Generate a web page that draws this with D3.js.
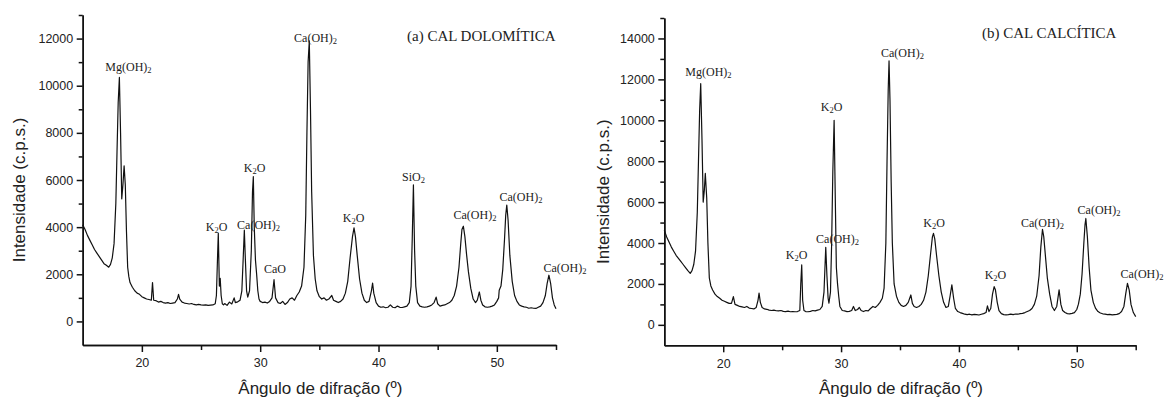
<!DOCTYPE html>
<html>
<head>
<meta charset="utf-8">
<script src="https://cdn.jsdelivr.net/npm/d3@7"></script>
<style>
  body { margin: 0; background: #fff; }
  svg { display: block; }
  .tick text { font-family: "Liberation Sans", Arial, sans-serif; font-size: 12.5px; fill: #222; }
  .domain, .tick line { stroke: #111; stroke-width: 1.5px; }
</style>
</head>
<body>
<div id="chart"></div>
<script>

// (a) cal dolomitica - angle (2 theta) and counts
var anglesA = [15.0,15.2,15.4,15.6,15.8,16.0,16.2,16.4,16.6,16.8,17.0,17.2,17.35,17.5,17.65,17.8,17.9,18.0,18.1,18.2,18.3,18.4,18.5,18.6,18.7,18.8,18.9,19.0,19.2,19.4,19.6,19.8,20.0,20.2,20.4,20.6,20.8,20.9,21.0,21.2,21.4,21.6,21.8,22.0,22.2,22.4,22.6,22.8,23.0,23.1,23.2,23.4,23.6,23.8,24.0,24.2,24.4,24.6,24.8,25.0,25.2,25.4,25.6,25.8,26.0,26.2,26.3,26.4,26.46,26.55,26.62,26.7,26.8,26.9,27.0,27.2,27.4,27.6,27.8,27.9,28.1,28.3,28.45,28.55,28.66,28.75,28.85,28.95,29.1,29.25,29.35,29.42,29.5,29.6,29.7,29.8,29.9,30.0,30.2,30.4,30.6,30.8,31.0,31.17,31.3,31.5,31.7,31.9,32.1,32.3,32.5,32.7,32.9,33.1,33.3,33.5,33.7,33.85,33.95,34.05,34.15,34.25,34.35,34.5,34.65,34.8,35.0,35.2,35.4,35.6,35.8,36.05,36.2,36.4,36.6,36.8,37.0,37.2,37.4,37.6,37.8,37.93,38.05,38.2,38.4,38.6,38.8,39.0,39.2,39.4,39.5,39.6,39.8,40.0,40.2,40.4,40.6,40.8,41.0,41.2,41.4,41.6,41.8,42.0,42.2,42.4,42.6,42.75,42.85,42.95,43.05,43.15,43.3,43.5,43.7,43.9,44.1,44.3,44.5,44.7,44.87,45.0,45.2,45.4,45.6,45.8,46.0,46.2,46.4,46.6,46.8,46.95,47.05,47.17,47.3,47.45,47.6,47.8,48.0,48.2,48.35,48.52,48.65,48.8,49.0,49.2,49.4,49.6,49.8,50.0,50.15,50.2,50.35,50.5,50.65,50.75,50.84,50.95,51.1,51.3,51.5,51.7,51.9,52.1,52.3,52.5,52.7,52.9,53.1,53.3,53.5,53.7,53.9,54.1,54.25,54.4,54.55,54.7,54.85,55.0];
var countsA = [4100,3900,3650,3450,3250,3050,2900,2750,2600,2450,2380,2300,2420,2700,3300,5000,7200,9300,10350,8000,5200,5800,6600,5800,3800,2300,1900,1650,1450,1300,1200,1150,1050,1000,950,930,900,1650,900,880,820,850,800,780,800,760,780,800,950,1150,950,820,780,760,740,760,720,700,720,700,690,700,680,690,700,750,1100,2800,3740,1500,1830,1100,750,700,760,680,820,740,1000,800,830,900,1300,2500,3870,2600,1300,1030,1300,3000,5500,6140,4000,2600,2000,1300,950,850,800,820,780,850,1000,1770,1000,800,760,850,720,800,950,1000,900,1100,1250,1500,2300,4500,8000,11000,11900,9000,5500,2800,1800,1300,1050,950,1000,900,950,1100,900,850,800,850,950,1200,1700,2700,3600,3970,3600,2800,1800,1200,900,800,850,1300,1630,1200,800,650,600,620,580,600,700,600,580,650,600,590,620,650,800,1500,3500,5790,3000,1500,800,650,620,600,620,650,700,800,1030,750,650,680,700,750,800,900,1100,1500,2300,3300,3900,4040,3600,2800,2100,1400,950,800,900,1250,900,700,620,600,620,650,700,850,1000,1320,1500,2200,3500,4500,4940,4300,2800,1700,1100,850,700,650,620,600,560,580,560,550,600,650,800,1100,1600,1960,1600,1000,700,540];

// (b) cal calcitica
var anglesB = [15.0,15.2,15.4,15.6,15.8,16.0,16.2,16.4,16.6,16.8,17.0,17.2,17.35,17.5,17.65,17.8,17.9,18.0,18.09,18.2,18.3,18.4,18.48,18.6,18.7,18.82,18.95,19.1,19.3,19.5,19.7,19.9,20.1,20.3,20.5,20.7,20.86,21.0,21.2,21.4,21.6,21.8,22.0,22.2,22.4,22.6,22.8,22.95,23.04,23.15,23.3,23.5,23.7,23.9,24.1,24.3,24.5,24.7,24.9,25.1,25.3,25.5,25.7,25.9,26.1,26.3,26.5,26.58,26.66,26.74,26.85,27.0,27.2,27.4,27.6,27.8,28.0,28.2,28.4,28.55,28.7,28.8,28.9,28.97,29.1,29.2,29.3,29.41,29.5,29.6,29.7,29.8,29.9,30.1,30.3,30.5,30.7,30.9,31.05,31.2,31.4,31.55,31.7,31.9,32.1,32.3,32.5,32.7,32.9,33.1,33.3,33.5,33.65,33.8,33.9,34.0,34.07,34.15,34.25,34.35,34.5,34.7,34.9,35.1,35.3,35.5,35.7,35.92,36.05,36.2,36.4,36.6,36.8,37.0,37.2,37.4,37.6,37.75,37.84,37.95,38.1,38.3,38.5,38.7,38.9,39.1,39.25,39.4,39.55,39.7,39.9,40.1,40.3,40.5,40.7,40.9,41.1,41.3,41.5,41.7,41.9,42.1,42.3,42.42,42.55,42.7,42.85,42.99,43.1,43.25,43.4,43.6,43.8,44.0,44.2,44.4,44.6,44.8,45.0,45.2,45.4,45.6,45.8,46.0,46.2,46.4,46.6,46.8,46.95,47.09,47.2,47.35,47.5,47.7,47.9,48.1,48.3,48.5,48.65,48.8,49.0,49.2,49.4,49.6,49.8,50.0,50.14,50.3,50.45,50.6,50.7,50.77,50.9,51.05,51.2,51.4,51.6,51.8,52.0,52.2,52.4,52.6,52.8,53.0,53.2,53.4,53.6,53.8,54.0,54.15,54.3,54.45,54.6,54.8,55.0];
var countsB = [4630,4300,4050,3800,3600,3400,3250,3100,2950,2800,2650,2520,2650,2950,3600,5500,8000,10500,11790,9000,6000,6600,7400,6200,4000,2290,1900,1700,1500,1380,1300,1200,1150,1100,1050,1050,1380,1000,950,900,880,850,900,820,800,780,850,1200,1550,1100,850,780,760,720,700,720,690,680,700,660,650,670,640,650,640,650,700,2000,2930,1200,700,650,640,660,700,680,720,750,900,1600,3790,2400,1300,1060,1600,4000,7500,10000,6500,2800,2000,1400,900,700,680,650,660,700,900,700,750,850,700,650,700,680,800,900,850,950,1100,1300,1800,4000,8000,11500,12900,11000,7000,4000,2000,1400,1100,950,900,950,1100,1460,1050,900,850,900,1000,1200,1600,2400,3500,4300,4470,4200,3400,2400,1600,1100,850,900,1400,1950,1300,800,650,600,560,520,500,520,490,510,500,480,520,550,600,930,650,800,1500,1870,1700,1100,700,550,500,490,500,520,500,530,520,550,560,600,650,700,800,1000,1400,2400,3800,4670,4300,3300,2300,1500,900,700,900,1710,1000,700,600,550,540,560,600,750,1010,1500,2500,4000,4900,5200,4300,2800,1700,1100,800,650,580,540,520,500,510,490,500,510,550,650,900,1500,2030,1700,1000,600,400];

// peak labels: phase name, label angle, label height (counts)
var labelsA = ["Mg(OH)2","K2O","Ca(OH)2","K2O","CaO","Ca(OH)2","K2O","SiO2","Ca(OH)2","Ca(OH)2","Ca(OH)2"];
var labelAngA = [18.87,26.31,29.86,29.52,31.25,34.68,37.89,42.96,48.15,52.04,55.76];
var labelIntA = [10620,3840,3920,6340,2050,11850,4220,5960,4345,5120,2100];

var labelsB = ["Mg(OH)2","K2O","Ca(OH)2","K2O","Ca(OH)2","K2O","K2O","Ca(OH)2","Ca(OH)2","Ca(OH)2"];
var labelAngB = [18.75,26.22,29.70,29.19,35.21,37.89,43.10,47.09,51.89,55.54];
var labelIntB = [12165,3220,4000,10450,13090,4780,2240,4780,5420,2290];

var yTicksA = [0,2000,4000,6000,8000,10000,12000];
var yTicksB = [0,2000,4000,6000,8000,10000,12000,14000];
var xTicks = [20,30,40,50];
var xMinor = [25,35,45,55];

var svg = d3.select("#chart").append("svg")
    .attr("width", 1164)
    .attr("height", 399)

XrdChart = function(_svg, _opts){
    this.svg = _svg
    this.opts = _opts
    this.initVis()
}

XrdChart.prototype.initVis = function(){
    var vis = this
    var o = vis.opts

    vis.x = d3.scaleLinear().domain([15, 55]).range([o.left, o.right])
    vis.y = d3.scaleLinear().domain(o.yDomain).range([o.bottom, o.top])

    vis.g = vis.svg.append("g")

    // minor ticks first so the major axis sits on top
    vis.g.append("g")
        .attr("transform", "translate(" + o.left + ",0)")
        .call(d3.axisLeft(vis.y).tickValues(o.yMinor).tickSize(4).tickSizeOuter(0).tickFormat(""))
    vis.g.append("g")
        .attr("transform", "translate(" + o.left + ",0)")
        .call(d3.axisLeft(vis.y).tickValues(o.yTicks).tickSize(6).tickPadding(3.5).tickSizeOuter(0).tickFormat(d3.format("d")))

    vis.g.append("g")
        .attr("transform", "translate(0," + o.bottom + ")")
        .call(d3.axisBottom(vis.x).tickValues(xMinor).tickSize(5).tickSizeOuter(0).tickFormat(""))
    vis.g.append("g")
        .attr("transform", "translate(0," + o.bottom + ")")
        .call(d3.axisBottom(vis.x).tickValues(xTicks).tickSize(7).tickPadding(6.5).tickSizeOuter(0))

    // axis titles
    vis.g.append("text")
        .attr("transform", "translate(" + o.yTitleX + "," + ((o.top + o.bottom) / 2 + 10) + ") rotate(-90)")
        .attr("text-anchor", "middle")
        .attr("dy", "0.35em")
        .style("font-family", "'Liberation Sans', Arial, sans-serif")
        .style("font-size", "17px")
        .style("fill", "#222")
        .text("Intensidade (c.p.s.)")

    vis.g.append("text")
        .attr("x", (o.left + o.right) / 2 + 1)
        .attr("y", 394)
        .attr("text-anchor", "middle")
        .style("font-family", "'Liberation Sans', Arial, sans-serif")
        .style("font-size", "17px")
        .style("fill", "#222")
        .text("Ângulo de difração (º)")

    vis.g.append("text")
        .attr("x", o.titleX)
        .attr("y", o.titleY)
        .style("font-family", "'Liberation Serif', 'Times New Roman', serif")
        .style("font-size", "15px")
        .style("fill", "#222")
        .text(o.title)

    vis.updateVis()
}

XrdChart.prototype.updateVis = function(){
    var vis = this
    var o = vis.opts

    var pts = o.angles.map(function(a, i){ return [a, o.counts[i]] })
    var line = d3.line()
        .x(function(d){ return vis.x(d[0]) })
        .y(function(d){ return vis.y(d[1]) })

    vis.g.append("path")
        .datum(pts)
        .attr("d", line)
        .attr("fill", "none")
        .attr("stroke", "#111")
        .attr("stroke-width", 1.2)
        .attr("stroke-linejoin", "round")

    // phase labels, digits as subscripts
    var labels = vis.g.selectAll(".peak")
        .data(o.labels)
        .enter()
        .append("text")
        .attr("class", "peak")
        .attr("x", function(d, i){ return vis.x(o.labelAng[i]) })
        .attr("y", function(d, i){ return vis.y(o.labelInt[i]) })
        .attr("text-anchor", "middle")
        .style("font-family", "'Liberation Serif', 'Times New Roman', serif")
        .style("font-size", "12px")
        .style("fill", "#222")

    labels.each(function(d){
        var t = d3.select(this)
        var parts = d.match(/\d+|\D+/g)
        var shifted = false
        parts.forEach(function(p){
            var isSub = /\d/.test(p)
            var span = t.append("tspan").text(p)
            if (isSub) {
                span.attr("dy", 2).style("font-size", "8.5px")
                shifted = true
            } else if (shifted) {
                span.attr("dy", -2)
                shifted = false
            }
        })
    })
}

new XrdChart(svg, {
    left: 82.7, right: 556, top: 15, bottom: 345,
    yDomain: [-1000, 13000],
    yTicks: yTicksA,
    yMinor: [1000,3000,5000,7000,9000,11000,13000],
    angles: anglesA, counts: countsA,
    labels: labelsA, labelAng: labelAngA, labelInt: labelIntA,
    title: "(a) CAL DOLOMÍTICA", titleX: 407, titleY: 41,
    yTitleX: 19
})

new XrdChart(svg, {
    left: 664.3, right: 1135.7, top: 18, bottom: 345.3,
    yDomain: [-1000, 15000],
    yTicks: yTicksB,
    yMinor: [1000,3000,5000,7000,9000,11000,13000,15000],
    angles: anglesB, counts: countsB,
    labels: labelsB, labelAng: labelAngB, labelInt: labelIntB,
    title: "(b) CAL CALCÍTICA", titleX: 982, titleY: 38,
    yTitleX: 603
})

</script>
</body>
</html>
